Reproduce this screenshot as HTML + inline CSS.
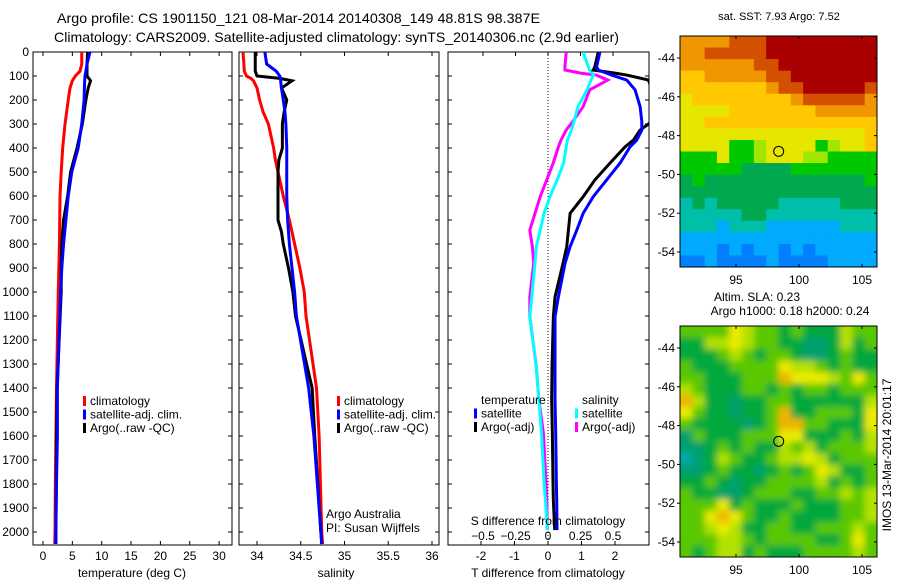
<!DOCTYPE html>
<html><head><meta charset="utf-8"><style>
body{margin:0;background:#fff;width:900px;height:580px;overflow:hidden}
svg{display:block;font-family:"Liberation Sans",sans-serif}
</style></head><body>
<svg id="c" width="900" height="580"></svg>
<script>
// ---- data ----
const tDepth=[0,50,80,100,120,150,200,300,400,500,600,700,800,900,1000,1400,1600,1800,2000,2050];
const tClim=[6.6,6.6,6.3,5.5,5.0,4.6,4.3,3.75,3.35,3.1,2.9,2.85,2.8,2.7,2.6,2.3,2.2,2.1,2.05,2.0];
const tSat=[8.0,7.5,7.3,7.15,7.1,7.05,7.0,6.6,6.0,4.9,4.3,3.9,3.5,3.2,3.0,2.45,2.45,2.3,2.2,2.2];
const tArgo=[7.6,7.5,7.5,7.5,8.1,7.7,7.3,6.7,5.8,4.7,4.2,3.5,3.2,3.1,3.1,2.4,2.3,2.25,2.2,2.2];
const sDepth=[0,50,80,100,110,120,150,200,250,300,400,450,500,600,700,750,800,900,1000,1100,1400,1600,2000,2050];
const sClim=[33.84,33.85,33.855,33.88,33.93,33.96,34.0,34.03,34.07,34.13,34.19,34.21,34.24,34.30,34.37,34.40,34.43,34.49,34.54,34.56,34.68,34.71,34.74,34.75];
const sSat=[34.09,34.11,34.22,34.26,34.27,34.27,34.28,34.30,34.32,34.33,34.34,34.34,34.34,34.34,34.35,34.36,34.37,34.40,34.43,34.45,34.59,34.65,34.73,34.74];
const sArgo=[33.98,33.98,33.98,34.0,34.26,34.40,34.28,34.34,34.31,34.29,34.29,34.25,34.24,34.24,34.24,34.28,34.30,34.36,34.41,34.44,34.63,34.66,34.73,34.74];
const dDepth=[0,61,75,88,96,117,158,228,290,325,367,395,463,533,603,672,742,811,880,1020,1103,1311,1450,1589,1797,1867,1992];
const dTsat=[1.55,1.45,1.5,1.75,1.9,2.35,2.6,2.75,2.8,2.8,2.65,2.45,2.15,1.75,1.35,1.05,0.86,0.66,0.51,0.31,0.21,0.21,0.21,0.23,0.25,0.26,0.27];
const dTargo=[1.5,1.4,1.35,2.0,2.35,3.0,3.1,3.1,3.1,2.75,2.55,2.3,1.85,1.4,1.05,0.66,0.61,0.56,0.45,0.21,0.16,0.12,0.11,0.13,0.15,0.16,0.2];
const dSsat=[0.27,0.31,0.32,0.34,0.35,0.33,0.30,0.23,0.2,0.18,0.15,0.14,0.12,0.07,0.015,-0.03,-0.06,-0.09,-0.10,-0.125,-0.14,-0.09,-0.07,-0.05,-0.03,-0.02,-0.005];
const dSargo=[0.14,0.13,0.13,0.25,0.37,0.46,0.32,0.27,0.19,0.14,0.1,0.08,0.04,-0.01,-0.06,-0.1,-0.14,-0.12,-0.11,-0.14,-0.14,-0.09,-0.07,-0.035,-0.015,-0.01,-0.005];
const depthTicks=[0,100,200,300,400,500,600,700,800,900,1000,1100,1200,1300,1400,1500,1600,1700,1800,1900,2000];
const tempTicks=[0,5,10,15,20,25,30];
const salTicks=[34,34.5,35,35.5,36];
const tdTicks=[-2,-1,0,1,2];
const sdTicks=[-0.5,-0.25,0,0.25,0.5];
const latTicks=[-44,-46,-48,-50,-52,-54];
const lonTicks=[95,100,105];
const sstGrid=["9999aaabbbbbbbbb","99aaaaabbbbbbbbb","999999aabbbbbbbb","8899999aabbbbbbb","88888889aabbbbba","7888888889aaaaa9","7777888888899999","7788888888888888","7777777777777778","7777556777756778","5557556777665555","5555544445555555","4544444444444445","4444444444444444","3434444433333444","3333344333333333","3332333222222333","2222222222222222","2221212212122222","1121111211112222"];
const slaGrid=["3333543323222433","2244543322112423","2223432332112322","3222333354432322","3322233365554353","4322233232332333","6422122332222224","5322122362233325","3222212366332225","1322233355222324","1123232243423334","0124322344542333","1123221232354223","2232122333342323","3221123332233434","3335232223222334","3356532232222334","3345422332233343","3334432333322353","3234423222333343"];
const sstColors=["#0010a0","#0080ff","#00aaff","#00bfaa","#00a850","#00c800","#a0e600","#e6e600","#ffc800","#f09600","#d25000","#aa0000"];
const slaColors=["#00aaaa","#00a070","#00a83c","#5ac800","#b4e100","#ebeb00","#f0b400"];
const argoLon=98.387, argoLat=-48.81;

const svg=document.getElementById('c');
const NS='http://www.w3.org/2000/svg';
function mk(tag,at,parent){const e=document.createElementNS(NS,tag);for(const k in at)e.setAttribute(k,at[k]);(parent||svg).appendChild(e);return e;}
function txt(s,x,y,at){const e=mk('text',Object.assign({x:x,y:y,'font-size':12,fill:'#000'},at||{}));e.textContent=s;return e;}

const yTop=52, pxPer100=24;
const yD=d=>yTop+d/100*pxPer100;
const panelBottom=545;

function panel(name,x0,x1){
  const g=mk('g',{});
  
  
  mk('rect',{x:x0,y:yTop,width:x1-x0,height:panelBottom-yTop,fill:'#fff',stroke:'#000','stroke-width':1},g);
  return g;
}
function stairs(g,xs,ds,fx,color,name){
  let d='';
  for(let i=0;i<xs.length;i++){
    const X=fx(xs[i]), Y=yD(ds[i]);
    if(i===0) d+='M'+X+' '+Y; else d+=' L'+X+' '+Y;
  }
  const p=mk('path',{d:d,fill:'none',stroke:color,'stroke-width':3,'stroke-linejoin':'miter'},g);
  
  
}
function depthAxis(g,x0,x1,labels){
  depthTicks.forEach(d=>{
    mk('line',{x1:x0,y1:yD(d),x2:x0+4,y2:yD(d),stroke:'#000'},g);
    mk('line',{x1:x1,y1:yD(d),x2:x1-4,y2:yD(d),stroke:'#000'},g);
    if(labels){txt(String(d),x0-4,yD(d)+4,{'text-anchor':'end'});}
  });
}
function xAxis(g,ticks,fx,fmt,y){
  ticks.forEach(v=>{
    const X=fx(v);
    mk('line',{x1:X,y1:panelBottom,x2:X,y2:panelBottom-4,stroke:'#000'},g);
    mk('line',{x1:X,y1:yTop,x2:X,y2:yTop+4,stroke:'#000'},g);
    txt(fmt(v),X,y,{'text-anchor':'middle'});
  });
}
function legend(g,x,y,items){
  items.forEach((it,i)=>{
    const yy=y+i*13.5;
    if(it[1]){mk('rect',{x:x,y:yy-9,width:3,height:10,fill:it[1]},g);}
    const t=txt(it[0],x+7,yy,{});
    
    
  });
}

// titles
const t1=txt('Argo profile: CS 1901150_121 08-Mar-2014 20140308_149 48.81S 98.387E',57,23,{textLength:483,lengthAdjust:'spacingAndGlyphs','font-size':14});

const t2=txt('Climatology: CARS2009. Satellite-adjusted climatology: synTS_20140306.nc (2.9d earlier)',54,42,{textLength:565,lengthAdjust:'spacingAndGlyphs','font-size':14});


// Panel 1 temperature
const fT=v=>43+v*5.87;
const g1=panel('temperature-panel',33,232);
depthAxis(g1,33,232,true);
xAxis(g1,tempTicks,fT,String,560);
stairs(g1,tClim,tDepth,fT,'#ff0000','temp-climatology-line');
stairs(g1,tArgo,tDepth,fT,'#000000','temp-argo-line');
stairs(g1,tSat,tDepth,fT,'#0000ff','temp-satellite-line');
legend(g1,83,405,[['climatology','#ff0000'],['satellite-adj. clim.','#0000ff'],['Argo(..raw -QC)','#000']]);
const xl1=txt('temperature (deg C)',132,577,{'text-anchor':'middle'});

// Panel 2 salinity
const fS=v=>257+(v-34)*87.5;
const g2=panel('salinity-panel',239,439);
depthAxis(g2,239,439,false);
xAxis(g2,salTicks,fS,String,560);
stairs(g2,sClim,sDepth,fS,'#ff0000','sal-climatology-line');
stairs(g2,sArgo,sDepth,fS,'#000000','sal-argo-line');
stairs(g2,sSat,sDepth,fS,'#0000ff','sal-satellite-line');
legend(g2,337,405,[['climatology','#ff0000'],['satellite-adj. clim.','#0000ff'],['Argo(..raw -QC)','#000']]);
txt('Argo Australia',326,518,{});
txt('PI: Susan Wijffels',326,532,{});
const xl2=txt('salinity',336,577,{'text-anchor':'middle'});

// Panel 3 differences
const fTd=v=>548+v*33.5, fSd=v=>548+v*130;
const g3=panel('difference-panel',448,649);
depthAxis(g3,448,649,false);
mk('line',{x1:548,y1:yTop,x2:548,y2:panelBottom,stroke:'#000','stroke-dasharray':'1,2'},g3);
tdTicks.forEach(v=>{const X=fTd(v);mk('line',{x1:X,y1:panelBottom,x2:X,y2:panelBottom-4,stroke:'#000'},g3);txt(String(v),X,560,{'text-anchor':'middle'});});
sdTicks.forEach(v=>{const X=fSd(v);mk('line',{x1:X,y1:yTop,x2:X,y2:yTop+4,stroke:'#000'},g3);txt(String(v).replace('-','\u2212'),X,540,{'text-anchor':'middle'});});
txt('S difference from climatology',548,525,{'text-anchor':'middle'});
const cp=mk('clipPath',{id:'cp3'});mk('rect',{x:448,y:yTop,width:201,height:panelBottom-yTop},cp);
const g3c=mk('g',{'clip-path':'url(#cp3)'},g3);
stairs(g3c,dSargo,dDepth,fSd,'#ff00ff','sdiff-argo-line');
stairs(g3c,dSsat,dDepth,fSd,'#00ffff','sdiff-satellite-line');
stairs(g3c,dTargo,dDepth,fTd,'#000000','tdiff-argo-line');
stairs(g3c,dTsat,dDepth,fTd,'#0000ff','tdiff-satellite-line');
legend(g3,474,404,[['temperature',null],['satellite','#0000ff'],['Argo(-adj)','#000']]);
legend(g3,575,404,[['salinity',null],['satellite','#00ffff'],['Argo(-adj)','#ff00ff']]);
const xl3=txt('T difference from climatology',548,577,{'text-anchor':'middle'});

// Maps
function map(name,grid,colors,y0,y1,latAt44,latAt54,blur){
  const x0=680,x1=877;
  const g=mk('g',{});
  
  
  const fLon=v=>736+(v-95)*12.6;
  const fLat=v=>latAt44+(-44-v)*(latAt54-latAt44)/10;
  const cid='clip'+name;
  const c=mk('clipPath',{id:cid});mk('rect',{x:x0,y:y0,width:x1-x0,height:y1-y0},c);
  let inner=mk('g',{'clip-path':'url(#'+cid+')'},g);
  if(blur){
    const f=mk('filter',{id:'bl'+name,x:'-10%',y:'-10%',width:'120%',height:'120%'});
    mk('feGaussianBlur',{stdDeviation:3.5},f);
    inner=mk('g',{filter:'url(#bl'+name+')'},inner);
  }
  const rows=grid.length, cols=grid[0].length;
  const latTop=-44+(latAt44-y0)*10/(latAt54-latAt44), latBot=-44-(y1-latAt44)*10/(latAt54-latAt44);
  const lonL=95+(x0-736)/12.6, lonR=95+(x1-736)/12.6;
  const dLat=(latTop-latBot)/rows, dLon=(lonR-lonL)/cols;
  for(let r=-1;r<=rows;r++)for(let k=-1;k<=cols;k++){
    const rr=Math.min(rows-1,Math.max(0,r)), kk=Math.min(cols-1,Math.max(0,k));
    const v=parseInt(grid[rr][kk],16);
    const X=fLon(lonL+k*dLon), Y=fLat(latTop-r*dLat);
    mk('rect',{x:X,y:Y,width:fLon(lonL+(k+1)*dLon)-X+0.5,height:fLat(latTop-(r+1)*dLat)-Y+0.5,fill:colors[v]},inner);
  }
  mk('rect',{x:x0,y:y0,width:x1-x0,height:y1-y0,fill:'none',stroke:'#000'},g);
  latTicks.forEach(v=>{const Y=fLat(v);mk('line',{x1:x0,y1:Y,x2:x0-3,y2:Y,stroke:'#000'},g);mk('line',{x1:x1,y1:Y,x2:x1-3,y2:Y,stroke:'#000'},g);txt(String(v),x0-5,Y+4,{'text-anchor':'end'});});
  lonTicks.forEach(v=>{const X=fLon(v);mk('line',{x1:X,y1:y1,x2:X,y2:y1-3,stroke:'#000'},g);mk('line',{x1:X,y1:y0,x2:X,y2:y0+3,stroke:'#000'},g);txt(String(v),X,y1+17,{'text-anchor':'middle'});});
  const circ=mk('circle',{cx:fLon(argoLon),cy:fLat(argoLat),r:5,fill:'none',stroke:'#000','stroke-width':1},g);
  
  
}
map('sst-map',sstGrid,sstColors,36,267,58,252,false);
map('sla-map',slaGrid,slaColors,326,557,348,542,true);
txt('sat. SST: 7.93 Argo: 7.52',779,20,{'text-anchor':'middle','font-size':11});
txt('Altim. SLA: 0.23',757,301,{'text-anchor':'middle'});
txt('Argo h1000: 0.18 h2000: 0.24',790,315,{'text-anchor':'middle'});
txt('IMOS 13-Mar-2014 20:01:17',891,455,{'text-anchor':'middle','transform':'rotate(-90 891 455)'});
</script>
</body></html>
